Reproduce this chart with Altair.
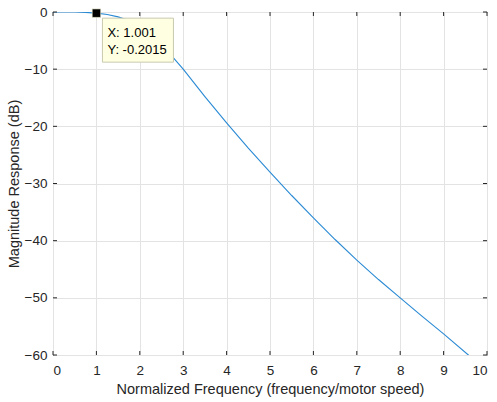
import altair as alt
import pandas as pd

# Data
freq = [0.0, 0.25, 0.5, 0.75, 1.0, 1.25, 1.5, 1.75, 2.0, 2.25, 2.5, 2.75, 3.0,
        3.5, 4.0, 4.5, 5.0, 5.5, 6.0, 6.5, 7.0, 7.5, 8.0, 8.5, 9.0, 9.57, 10.0]
mag = [0.0, 0.0, -0.01, -0.06, -0.2, -0.45, -0.85, -1.5, -2.5, -3.9, -5.6, -7.8, -10.0,
       -14.8, -19.4, -23.8, -28.0, -32.1, -36.0, -39.8, -43.4, -46.8, -50.0, -53.2, -56.3, -60.0, -62.7]
x_ticks = [0, 1, 2, 3, 4, 5, 6, 7, 8, 9, 10]
y_ticks = [-60, -50, -40, -30, -20, -10, 0]
tip_x = [1.001]
tip_y = [-0.2015]
tip_text = ["X: 1.001", "Y: -0.2015"]

W, H = 434, 343
FONT = "Liberation Sans"
DARK = "#262626"

df = pd.DataFrame({"f": freq, "m": mag})
xt = pd.DataFrame({"t": x_ticks})
yt = pd.DataFrame({"t": y_ticks})
tip = pd.DataFrame({"x": tip_x, "y": tip_y})

xs = alt.Scale(domain=[0, 10], nice=False, zero=False)
ys = alt.Scale(domain=[-60, 0], nice=False, zero=False)

x_axis = alt.Axis(
    values=x_ticks, title="Normalized Frequency (frequency/motor speed)",
    grid=True, gridColor="#e3e3e3", domain=False, ticks=False,
    labelFontSize=13.5, labelColor=DARK, labelFont=FONT, labelPadding=8,
    titleFont=FONT, titleFontSize=14.5, titleColor=DARK, titleFontWeight="normal",
    titlePadding=6)
y_axis = alt.Axis(
    values=y_ticks, title="Magnitude Response (dB)",
    grid=True, gridColor="#e3e3e3", domain=False, ticks=False,
    labelFontSize=13.5, labelColor=DARK, labelFont=FONT, labelPadding=6,
    titleFont=FONT, titleFontSize=14.5, titleColor=DARK, titleFontWeight="normal",
    titlePadding=3)


def X(field):
    return alt.X(field, scale=xs, axis=x_axis)


def Y(field):
    return alt.Y(field, scale=ys, axis=y_axis)


line = alt.Chart(df).mark_line(color="#2a8ad4", strokeWidth=1.1, clip=True).encode(
    x=X("f:Q"), y=Y("m:Q"))

tl = 4
tick_bottom = alt.Chart(xt).mark_rule(color=DARK, strokeWidth=1).encode(
    x=X("t:Q"), y=alt.value(H), y2=alt.value(H - tl))
tick_top = alt.Chart(xt).mark_rule(color=DARK, strokeWidth=1).encode(
    x=X("t:Q"), y=alt.value(0), y2=alt.value(tl))
tick_left = alt.Chart(yt).mark_rule(color=DARK, strokeWidth=1).encode(
    y=Y("t:Q"), x=alt.value(0), x2=alt.value(tl))
tick_right = alt.Chart(yt).mark_rule(color=DARK, strokeWidth=1).encode(
    y=Y("t:Q"), x=alt.value(W), x2=alt.value(W - tl))

box = alt.Chart(tip).mark_rect(
    fill="#ffffe1", stroke="#c9c9b0", strokeWidth=1,
    xOffset=6, x2Offset=77, yOffset=5, y2Offset=49).encode(
    x=X("x:Q"), x2="x:Q", y=Y("y:Q"), y2="y:Q")

marker = alt.Chart(tip).mark_square(size=72, color="black", opacity=1,
                                     stroke="#f5f5dc", strokeWidth=0.6).encode(
    x=X("x:Q"), y=Y("y:Q"))

text1 = alt.Chart(tip).mark_text(align="left", baseline="middle", font=FONT, fontSize=13,
                                 color="black", dx=11, dy=20, text=tip_text[0]).encode(
    x=X("x:Q"), y=Y("y:Q"))
text2 = alt.Chart(tip).mark_text(align="left", baseline="middle", font=FONT, fontSize=13,
                                 color="black", dx=11, dy=37, text=tip_text[1]).encode(
    x=X("x:Q"), y=Y("y:Q"))

chart = alt.layer(line, tick_bottom, tick_top, tick_left, tick_right, box, marker,
                  text1, text2).properties(
    width=W, height=H,
    autosize=alt.AutoSizeParams(type="none"),
    padding={"left": 53, "top": 12, "right": 10, "bottom": 47},
    background="white",
).configure_view(stroke=DARK, strokeWidth=1)

chart.save("out.html", embed_options={"renderer": "svg", "actions": False})
